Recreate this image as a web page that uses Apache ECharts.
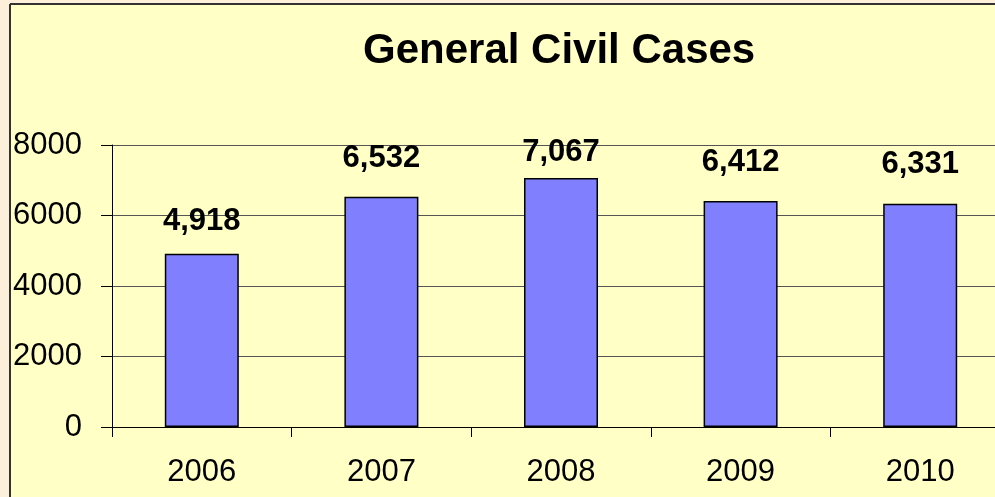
<!DOCTYPE html>
<html>
<head>
<meta charset="utf-8">
<script src="https://cdn.jsdelivr.net/npm/echarts@6/dist/echarts.min.js"></script>
<style>
html,body{margin:0;padding:0;overflow:hidden;background:#FDF0DA;width:995px;height:497px;}
#main{width:1010px;height:497px;}
</style>
</head>
<body>
<div id="main"></div>
<script>
var titleText = "General Civil Cases";
var categories = ["2006", "2007", "2008", "2009", "2010"];
var caseCounts = [4918, 6532, 7067, 6412, 6331];
var yTicks = [0, 2000, 4000, 6000, 8000];

var FONT = "'Liberation Sans', Arial, sans-serif";
// label gaps above each bar (styling only)
var labelGap = [17, 23, 10, 23, 24];

var chart = echarts.init(document.getElementById('main'), null, {renderer: 'canvas'});
chart.setOption({
  backgroundColor: '#FFFFC6',
  animation: false,
  title: {
    text: titleText,
    left: 358,
    top: 25,
    textStyle: {fontFamily: FONT, fontSize: 42, fontWeight: 'bold', color: '#000'}
  },
  graphic: [
    {type: 'rect', shape: {x: 0, y: 0, width: 10, height: 497}, style: {fill: '#FDF0DA'}, silent: true},
    {type: 'rect', shape: {x: 0, y: 0, width: 1010, height: 4}, style: {fill: '#FDF0DA'}, silent: true},
    {type: 'line', shape: {x1: 10, y1: 4, x2: 10, y2: 497}, style: {stroke: '#333', lineWidth: 2}, silent: true},
    {type: 'line', shape: {x1: 10, y1: 4, x2: 1010, y2: 4}, style: {stroke: '#333', lineWidth: 2}, silent: true}
  ],
  grid: {left: 112, right: 0, top: 145, bottom: 70, containLabel: false},
  xAxis: {
    type: 'category',
    data: categories,
    boundaryGap: true,
    axisLine: {lineStyle: {color: '#000', width: 1}},
    axisTick: {show: true, length: 10, lineStyle: {color: '#000'}},
    axisLabel: {fontFamily: FONT, fontSize: 31, color: '#000', margin: 30}
  },
  yAxis: {
    type: 'value',
    min: yTicks[0],
    max: yTicks[yTicks.length - 1],
    interval: yTicks[1] - yTicks[0],
    axisLine: {show: true, lineStyle: {color: '#000', width: 1}},
    axisTick: {show: true, length: 11, lineStyle: {color: '#000'}},
    axisLabel: {fontFamily: FONT, fontSize: 31, color: '#000', margin: 30,
      formatter: function (v) { return String(v); }},
    splitLine: {show: true, lineStyle: {color: '#555', width: 1}}
  },
  series: [{
    type: 'bar',
    data: caseCounts.map(function (v, i) {
      return {value: v, label: {distance: labelGap[i]}};
    }),
    barWidth: 74,
    itemStyle: {color: '#8080FF', borderColor: '#000', borderWidth: 1.5},
    label: {
      show: true,
      position: 'top',
      fontFamily: FONT,
      fontSize: 31,
      fontWeight: 'bold',
      color: '#000',
      formatter: function (p) { return p.value.toLocaleString('en-US'); }
    }
  }]
});
</script>
</body>
</html>
